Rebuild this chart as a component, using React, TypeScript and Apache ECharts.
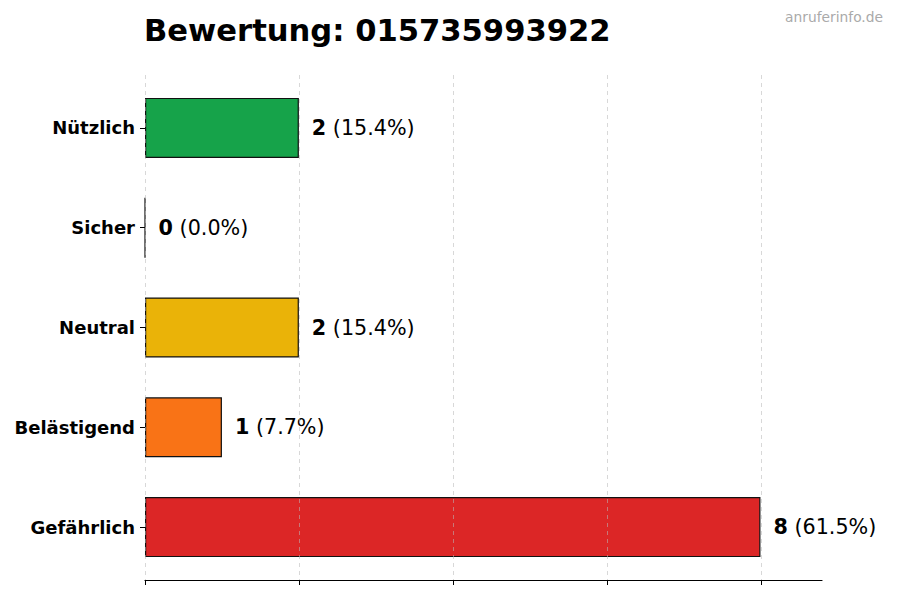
import React, { useEffect, useRef } from 'react';
import * as echarts from 'echarts';

const categories = ['Gefährlich', 'Belästigend', 'Neutral', 'Sicher', 'Nützlich'];
const counts = [8, 1, 2, 0, 2];
const barColors = ['#dc2626', '#f97316', '#eab308', '#6b7280', '#16a34a'];
const phoneNumber = '015735993922';

const total = counts.reduce((a, b) => a + b, 0);
const FONT = 'DejaVu Sans';

const App: React.FC = () => {
  const chartRef = useRef<HTMLDivElement | null>(null);

  useEffect(() => {
    if (!chartRef.current) return;
    const chart = echarts.init(chartRef.current, undefined, { renderer: 'svg' });

    const hiddenY = (gridIndex: number) => ({
      type: 'value',
      gridIndex,
      show: false,
      min: 0,
      max: 1,
    });

    const option = {
      animation: false,
      textStyle: { fontFamily: FONT },
      title: {
        text: 'Bewertung: ' + phoneNumber,
        left: 139,
        top: 10,
        textStyle: { fontSize: 30.6, fontWeight: 'bold', color: '#000', fontFamily: FONT },
      },
      graphic: [
        {
          type: 'text',
          right: 17,
          top: 10,
          style: { text: 'anruferinfo.de', fontSize: 13.8, fill: '#aaaaaa', fontFamily: FONT },
        },
      ],
      grid: [
        // bars
        { left: 145, right: 78, top: 78, bottom: 23 },
        // axis line
        { left: 145, right: 78, top: 75, bottom: 20 },
        // ticks + dashed grid (0..8)
        { left: 145, right: 139, top: 75, bottom: 20 },
      ],
      xAxis: [
        {
          type: 'value',
          gridIndex: 0,
          min: 0,
          max: 8.8,
          show: false,
        },
        {
          type: 'value',
          gridIndex: 1,
          min: 0,
          max: 8.8,
          z: 5,
          axisLine: { show: true, lineStyle: { color: '#000', width: 1.2 } },
          axisTick: { show: false },
          axisLabel: { show: false },
          splitLine: { show: false },
        },
        {
          type: 'value',
          gridIndex: 2,
          min: 0,
          max: 8,
          interval: 2,
          z: 5,
          axisLine: { show: false },
          axisTick: { show: true, length: 5, lineStyle: { color: '#000', width: 1 } },
          axisLabel: { show: false },
          splitLine: { show: true, lineStyle: { color: 'rgba(185,185,185,0.7)', type: [4, 4], width: 0.8 } },
        },
      ],
      yAxis: [
        {
          type: 'category',
          gridIndex: 0,
          data: categories,
          axisLine: { show: false },
          axisTick: { show: true, alignWithLabel: true, length: 5, lineStyle: { color: '#000' } },
          axisLabel: { fontSize: 18, fontWeight: 'bold', color: '#000', margin: 10, fontFamily: FONT },
        },
        hiddenY(1),
        hiddenY(2),
      ],
      series: [
        {
          type: 'bar',
          xAxisIndex: 0,
          yAxisIndex: 0,
          barWidth: 60,
          data: counts.map((v, i) => ({
            value: v,
            itemStyle: { color: barColors[i], borderColor: '#111', borderWidth: 1.2 },
          })),
          label: {
            show: true,
            position: 'right',
            distance: 13,
            formatter: (p: any) => `{b|${p.value}}{n| (${((p.value / total) * 100).toFixed(1)}%)}`,
            rich: {
              b: { fontSize: 20.7, fontWeight: 'bold', color: '#000', fontFamily: FONT },
              n: { fontSize: 20.7, color: '#000', fontFamily: FONT },
            },
          },
        },
      ],
    };

    chart.setOption(option);
    return () => {
      chart.dispose();
    };
  }, []);

  return (
    <div
      ref={chartRef}
      style={{ position: 'fixed', left: 0, top: 0, width: 900, height: 600, background: '#fff' }}
    />
  );
};

export default App;
